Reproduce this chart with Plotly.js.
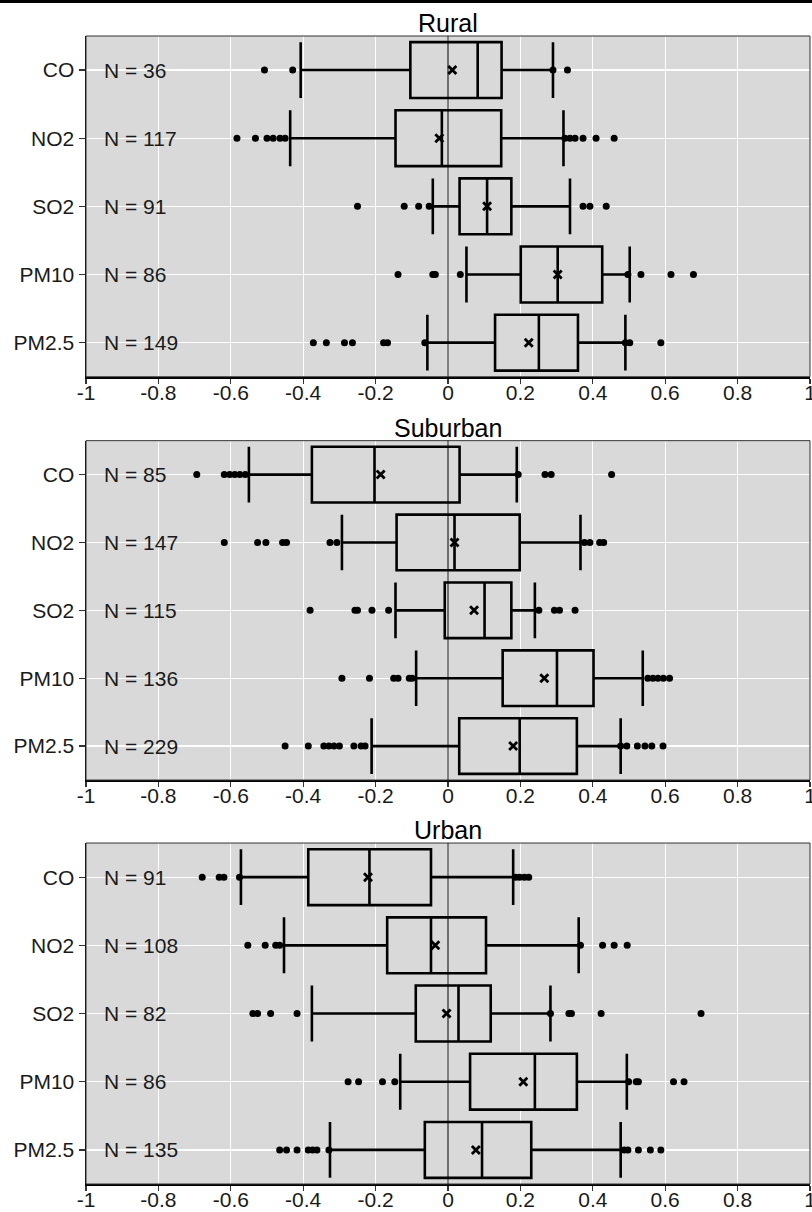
<!DOCTYPE html>
<html>
<head>
<meta charset="utf-8">
<script src="https://cdn.plot.ly/plotly-3.0.1.min.js"></script>
<style>
html,body{margin:0;padding:0;background:#fff;}
#chart{width:812px;height:1212px;}
</style>
</head>
<body>
<div id="chart"></div>
<script>
// ---------- data ----------
const categories = ['CO', 'NO2', 'SO2', 'PM10', 'PM2.5'];
const panelTitles = ['Rural', 'Suburban', 'Urban'];
const tickValues = [-1, -0.8, -0.6, -0.4, -0.2, 0, 0.2, 0.4, 0.6, 0.8, 1];
const tickLabels = ['-1', '-0.8', '-0.6', '-0.4', '-0.2', '0', '0.2', '0.4', '0.6', '0.8', '1'];

// Rural
const ruralN = [36, 117, 91, 86, 149];
const ruralLow = [-0.407, -0.436, -0.042, 0.051, -0.057];
const ruralQ1 = [-0.104, -0.145, 0.032, 0.201, 0.130];
const ruralMedian = [0.082, -0.017, 0.108, 0.303, 0.251];
const ruralQ3 = [0.148, 0.147, 0.175, 0.426, 0.359];
const ruralHigh = [0.290, 0.319, 0.337, 0.502, 0.490];
const ruralMean = [0.012, -0.024, 0.108, 0.303, 0.223];
const ruralOutliers = [
  [-0.507, -0.429, 0.290, 0.330],
  [-0.583, -0.532, -0.500, -0.483, -0.464, -0.450, 0.323, 0.337, 0.351, 0.373, 0.409, 0.459],
  [-0.250, -0.121, -0.081, -0.052, 0.373, 0.392, 0.437],
  [-0.138, -0.042, -0.035, 0.034, 0.497, 0.533, 0.616, 0.678],
  [-0.372, -0.336, -0.286, -0.264, -0.178, -0.167, -0.064, 0.490, 0.502, 0.588]
];

// Suburban
const suburbanN = [85, 147, 115, 136, 229];
const suburbanLow = [-0.550, -0.293, -0.145, -0.088, -0.211];
const suburbanQ1 = [-0.376, -0.142, -0.009, 0.151, 0.031];
const suburbanMedian = [-0.203, 0.018, 0.101, 0.301, 0.198];
const suburbanQ3 = [0.032, 0.198, 0.175, 0.402, 0.356];
const suburbanHigh = [0.190, 0.366, 0.240, 0.538, 0.477];
const suburbanMean = [-0.186, 0.018, 0.072, 0.266, 0.180];
const suburbanOutliers = [
  [-0.694, -0.618, -0.603, -0.589, -0.575, -0.560, 0.194, 0.268, 0.285, 0.452],
  [-0.618, -0.526, -0.503, -0.457, -0.446, -0.326, -0.307, 0.377, 0.392, 0.419, 0.430],
  [-0.381, -0.257, -0.250, -0.210, -0.164, 0.251, 0.294, 0.308, 0.351],
  [-0.293, -0.217, -0.150, -0.138, -0.107, -0.099, 0.552, 0.566, 0.580, 0.595, 0.612],
  [-0.450, -0.386, -0.343, -0.329, -0.315, -0.300, -0.260, -0.240, -0.229, 0.477, 0.494, 0.523, 0.544, 0.563, 0.594]
];

// Urban
const urbanN = [91, 108, 82, 86, 135];
const urbanLow = [-0.572, -0.453, -0.376, -0.132, -0.326];
const urbanQ1 = [-0.386, -0.168, -0.089, 0.061, -0.064];
const urbanMedian = [-0.217, -0.047, 0.029, 0.240, 0.094];
const urbanQ3 = [-0.047, 0.105, 0.118, 0.356, 0.230];
const urbanHigh = [0.180, 0.361, 0.283, 0.494, 0.477];
const urbanMean = [-0.221, -0.035, -0.004, 0.208, 0.077];
const urbanOutliers = [
  [-0.679, -0.632, -0.619, -0.576, 0.187, 0.198, 0.211, 0.223],
  [-0.553, -0.505, -0.476, -0.465, 0.366, 0.427, 0.459, 0.495],
  [-0.539, -0.526, -0.490, -0.417, 0.283, 0.334, 0.341, 0.423, 0.699],
  [-0.276, -0.247, -0.181, -0.147, 0.499, 0.520, 0.526, 0.623, 0.652],
  [-0.465, -0.446, -0.417, -0.386, -0.374, -0.362, -0.329, 0.487, 0.497, 0.526, 0.559, 0.588]
];

// ---------- build ----------
const panels = [
  {n: ruralN, low: ruralLow, q1: ruralQ1, med: ruralMedian, q3: ruralQ3, high: ruralHigh, mean: ruralMean, out: ruralOutliers},
  {n: suburbanN, low: suburbanLow, q1: suburbanQ1, med: suburbanMedian, q3: suburbanQ3, high: suburbanHigh, mean: suburbanMean, out: suburbanOutliers},
  {n: urbanN, low: urbanLow, q1: urbanQ1, med: urbanMedian, q3: urbanQ3, high: urbanHigh, mean: urbanMean, out: urbanOutliers}
];

const FONT = 'Liberation Sans, Arial, sans-serif';
const TXT = '#1a1a1a';
const domains = [[0.7032, 1.0], [0.3519, 0.6475], [0.0, 0.2970]];

const traces = [];
const annotations = [];
const shapes = [];
const layout = {
  width: 812, height: 1212,
  margin: {l: 86, r: 2, t: 36, b: 28},
  paper_bgcolor: '#ffffff',
  plot_bgcolor: '#D9D9D9',
  showlegend: false,
  font: {family: FONT, size: 21, color: TXT}
};

panels.forEach((p, i) => {
  const s = i === 0 ? '' : String(i + 1);
  const xa = 'x' + s, ya = 'y' + s;

  traces.push({
    type: 'box', orientation: 'h',
    y: categories,
    q1: p.q1, median: p.med, q3: p.q3,
    lowerfence: p.low, upperfence: p.high,
    boxpoints: false,
    width: 0.82, whiskerwidth: 1,
    line: {color: '#000000', width: 2.6},
    fillcolor: '#D9D9D9',
    xaxis: xa, yaxis: ya, hoverinfo: 'skip'
  });

  const ox = [], oy = [];
  p.out.forEach((arr, k) => arr.forEach(v => { ox.push(v); oy.push(categories[k]); }));
  traces.push({
    type: 'scatter', mode: 'markers', x: ox, y: oy,
    marker: {color: '#000000', size: 7, symbol: 'circle'},
    xaxis: xa, yaxis: ya, hoverinfo: 'skip'
  });

  traces.push({
    type: 'scatter', mode: 'markers', x: p.mean, y: categories,
    marker: {color: '#000000', size: 8, symbol: 'x-thin', line: {color: '#000000', width: 2.8}},
    xaxis: xa, yaxis: ya, hoverinfo: 'skip'
  });

  layout['xaxis' + s] = {
    anchor: ya, domain: [0, 1], range: [-1, 1],
    tickmode: 'array', tickvals: tickValues, ticktext: tickLabels,
    ticks: 'outside', ticklen: 5, tickwidth: 1.2, tickcolor: '#333333',
    ticklabelstandoff: -9, ticklabeloverflow: 'allow',
    showgrid: true, gridcolor: '#ffffff', gridwidth: 1.2,
    zeroline: false,
    showline: true, linecolor: '#000000', linewidth: 2, mirror: false,
    tickfont: {family: FONT, size: 21, color: TXT}
  };
  layout['yaxis' + s] = {
    anchor: xa, domain: domains[i],
    type: 'category', categoryorder: 'array',
    categoryarray: categories.slice().reverse(),
    range: [-0.5, 4.5],
    ticks: 'outside', ticklen: 6, tickwidth: 1.2, tickcolor: '#333333',
    showgrid: true, gridcolor: '#ffffff', gridwidth: 1.2,
    zeroline: false,
    showline: true, linecolor: '#000000', linewidth: 1.5, mirror: false,
    tickfont: {family: FONT, size: 21, color: TXT}
  };

  // panel border (top/right)
  shapes.push({type: 'rect', xref: xa + ' domain', yref: ya + ' domain', x0: 0, x1: 1, y0: 0, y1: 1,
    line: {color: '#333333', width: 1}, fillcolor: 'rgba(0,0,0,0)', layer: 'above'});
  // reference line at zero
  shapes.push({type: 'line', xref: xa, yref: ya + ' domain', x0: 0, x1: 0, y0: 0, y1: 1,
    line: {color: '#000000', width: 1}, layer: 'above'});

  // N labels
  categories.forEach((c, k) => {
    annotations.push({xref: xa, yref: ya, x: -0.955, y: c, xanchor: 'left', yanchor: 'middle',
      text: 'N = ' + p.n[k], showarrow: false, font: {family: FONT, size: 21, color: TXT}});
  });

  // panel title
  annotations.push({xref: 'paper', yref: 'paper', x: 0.5, y: domains[i][1], xanchor: 'center', yanchor: 'bottom',
    text: panelTitles[i], showarrow: false, yshift: -3, font: {family: FONT, size: 25, color: '#000000'}});
});

// top edge bar seen in the reference image
shapes.push({type: 'rect', xref: 'paper', yref: 'paper', x0: -0.2, x1: 1.1, y0: 1.0287, y1: 1.04,
  line: {width: 0}, fillcolor: '#000000', layer: 'above'});

layout.annotations = annotations;
layout.shapes = shapes;

Plotly.newPlot('chart', traces, layout, {displayModeBar: false, staticPlot: true});
</script>
</body>
</html>
